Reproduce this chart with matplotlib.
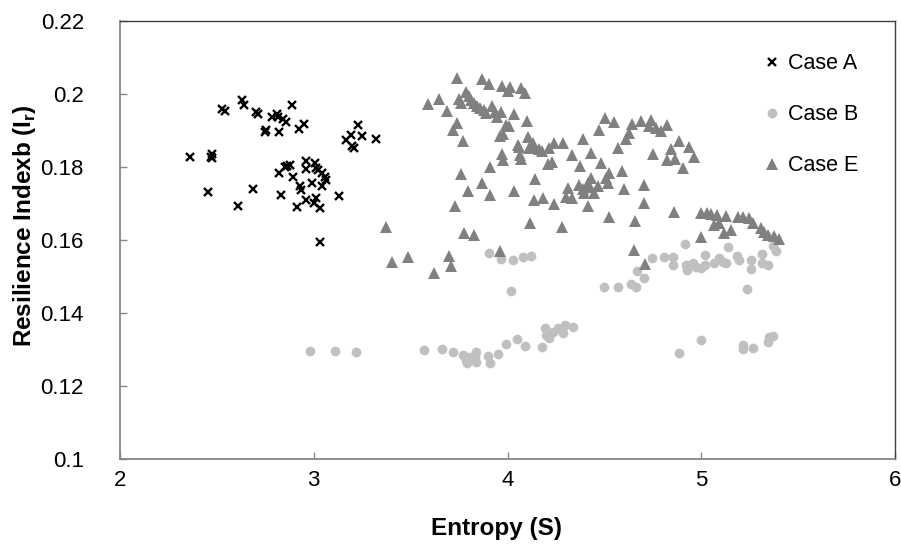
import matplotlib
matplotlib.use("Agg")
import matplotlib.pyplot as plt

plt.rcParams['font.family'] = ['Liberation Sans', 'DejaVu Sans']
plt.rcParams['mathtext.fontset'] = 'custom'
plt.rcParams['mathtext.rm'] = 'Liberation Sans'
plt.rcParams['mathtext.bf'] = 'Liberation Sans:bold'

# Case A (entropy, resilience index)
case_a_x = [2.632, 2.639, 2.524, 2.541, 2.701, 2.713, 2.890, 2.782, 2.808, 2.816,
            2.839, 2.859, 2.950, 2.923, 2.747, 2.753, 2.821, 3.228, 3.191, 3.165,
            3.251, 3.320, 3.206, 3.196, 2.361, 2.473, 2.469, 2.474, 2.821, 2.851,
            2.876, 2.864, 2.959, 2.962, 3.005, 3.014, 3.022, 3.040, 3.057, 3.065,
            2.893, 2.931, 2.936, 2.991, 3.040, 2.452, 2.684, 2.833, 2.610, 2.911,
            2.962, 3.014, 3.002, 3.031, 3.130, 3.031]
case_a_y = [0.1984, 0.1970, 0.1958, 0.1953, 0.1950, 0.1944, 0.1970, 0.1936, 0.1944, 0.1936,
            0.1931, 0.1922, 0.1918, 0.1904, 0.1897, 0.1901, 0.1895, 0.1915, 0.1888, 0.1874,
            0.1885, 0.1876, 0.1851, 0.1858, 0.1828, 0.1836, 0.1828, 0.1825, 0.1783, 0.1799,
            0.1805, 0.1803, 0.1817, 0.1794, 0.1810, 0.1796, 0.1792, 0.1784, 0.1773, 0.1764,
            0.1772, 0.1748, 0.1737, 0.1755, 0.1748, 0.1732, 0.1741, 0.1723, 0.1694, 0.1691,
            0.1710, 0.1716, 0.1702, 0.1687, 0.1721, 0.1595]

# Case B
case_b_x = [2.983, 3.112, 3.220, 3.571, 3.660, 3.718, 3.770, 3.787, 3.804, 3.839,
            3.830, 3.790, 3.839, 3.898, 3.911, 3.950, 3.990, 4.049, 4.088, 4.179,
            4.191, 4.200, 4.216, 4.234, 4.259, 4.285, 4.299, 4.340, 4.019, 3.907,
            3.968, 4.027, 4.079, 4.122, 4.500, 4.569, 4.638, 4.663, 4.667, 4.706,
            4.746, 4.806, 4.856, 4.852, 4.918, 4.921, 4.929, 4.955, 4.973, 4.998,
            5.019, 5.019, 5.067, 5.093, 5.110, 5.127, 5.136, 5.187, 5.196, 5.256,
            5.259, 5.316, 5.316, 5.342, 5.368, 5.388, 5.236, 4.887, 4.998, 5.216,
            5.216, 5.268, 5.342, 5.351, 5.368]
case_b_y = [0.1297, 0.1297, 0.1292, 0.1299, 0.1301, 0.1294, 0.1285, 0.1271, 0.1280, 0.1294,
            0.1280, 0.1262, 0.1267, 0.1282, 0.1264, 0.1287, 0.1314, 0.1330, 0.1310, 0.1308,
            0.1358, 0.1340, 0.1331, 0.1349, 0.1358, 0.1346, 0.1367, 0.1362, 0.1460, 0.1564,
            0.1547, 0.1545, 0.1554, 0.1556, 0.1470, 0.1470, 0.1479, 0.1472, 0.1516, 0.1495,
            0.1550, 0.1554, 0.1553, 0.1532, 0.1589, 0.1532, 0.1518, 0.1538, 0.1527, 0.1522,
            0.1559, 0.1532, 0.1536, 0.1550, 0.1541, 0.1536, 0.1582, 0.1556, 0.1545, 0.1545,
            0.1520, 0.1562, 0.1536, 0.1532, 0.1584, 0.1571, 0.1465, 0.1290, 0.1326, 0.1312,
            0.1301, 0.1303, 0.1321, 0.1333, 0.1337]

# Case E
case_e_x = [3.741, 3.870, 3.907, 3.973, 4.014, 4.002, 4.071, 4.088, 3.589, 3.646,
            3.687, 3.749, 3.761, 3.787, 3.801, 3.813, 3.825, 3.842, 3.859, 3.881,
            3.890, 3.921, 3.933, 3.945, 3.968, 4.031, 3.990, 4.010, 4.102, 3.741,
            3.718, 3.770, 3.959, 3.979, 4.053, 4.058, 4.105, 4.131, 4.113, 4.139,
            4.165, 4.179, 4.213, 4.242, 3.973, 3.979, 4.062, 4.071, 4.208, 4.230,
            3.911, 3.761, 3.870, 4.144, 3.795, 3.911, 4.036, 4.139, 4.182, 4.242,
            3.730, 3.375, 4.117, 3.775, 3.825, 3.959, 3.406, 3.486, 3.696, 3.710,
            3.620,
            4.505, 4.552, 4.474, 4.643, 4.629, 4.612, 4.689, 4.741, 4.732, 4.766,
            4.792, 4.821, 4.285, 4.388, 4.569, 4.883, 4.844, 4.938, 4.821, 4.866,
            4.964, 4.749, 4.907, 4.331, 4.431, 4.375, 4.483, 4.591, 4.526, 4.509,
            4.517, 4.431, 4.414, 4.371, 4.466, 4.448, 4.397, 4.311, 4.303, 4.333,
            4.423, 4.388, 4.603, 4.706, 4.703, 4.414, 4.522, 4.660, 4.857, 4.282,
            4.655, 4.711,
            4.998, 5.029, 5.050, 5.081, 5.127, 5.192, 5.213, 5.247, 5.265, 5.308,
            5.325, 5.347, 5.376, 5.402, 5.067, 5.093, 5.115, 5.153, 4.998]
case_e_y = [0.2043, 0.2040, 0.2027, 0.2023, 0.2018, 0.2009, 0.2016, 0.2002, 0.1973, 0.1986,
            0.1954, 0.1986, 0.1975, 0.2005, 0.1995, 0.1984, 0.1975, 0.1967, 0.1961, 0.1956,
            0.1947, 0.1967, 0.1952, 0.1936, 0.1952, 0.1945, 0.1915, 0.1912, 0.1926, 0.1921,
            0.1901, 0.1872, 0.1885, 0.1890, 0.1860, 0.1854, 0.1881, 0.1867, 0.1851, 0.1856,
            0.1848, 0.1845, 0.1851, 0.1865, 0.1835, 0.1819, 0.1833, 0.1821, 0.1808, 0.1815,
            0.1799, 0.1780, 0.1757, 0.1766, 0.1734, 0.1723, 0.1734, 0.1710, 0.1714, 0.1699,
            0.1694, 0.1635, 0.1646, 0.1620, 0.1614, 0.1571, 0.1539, 0.1554, 0.1556, 0.1530,
            0.1510,
            0.1933, 0.1924, 0.1901, 0.1917, 0.1892, 0.1876, 0.1926, 0.1929, 0.1912, 0.1906,
            0.1899, 0.1915, 0.1865, 0.1876, 0.1853, 0.1871, 0.1848, 0.1856, 0.1819, 0.1822,
            0.1827, 0.1836, 0.1796, 0.1833, 0.1839, 0.1803, 0.1810, 0.1790, 0.1783, 0.1769,
            0.1755, 0.1769, 0.1755, 0.1751, 0.1748, 0.1728, 0.1728, 0.1742, 0.1719, 0.1714,
            0.1746, 0.1739, 0.1739, 0.1750, 0.1702, 0.1693, 0.1664, 0.1653, 0.1676, 0.1635,
            0.1573, 0.1534,
            0.1673, 0.1675, 0.1670, 0.1668, 0.1666, 0.1662, 0.1664, 0.1659, 0.1646, 0.1632,
            0.1623, 0.1614, 0.1611, 0.1602, 0.1641, 0.1646, 0.1620, 0.1627, 0.1607]

x_ticks = [2, 3, 4, 5, 6]
y_ticks = [0.1, 0.12, 0.14, 0.16, 0.18, 0.2, 0.22]
y_tick_labels = ['0.1', '0.12', '0.14', '0.16', '0.18', '0.2', '0.22']

fig = plt.figure(figsize=(9.01, 5.5), dpi=100)
ax = fig.add_axes([120 / 901, 1 - 459 / 550, 775 / 901, 438 / 550])

ax.plot(case_b_x, case_b_y, 'o', color='#c0c0c0', markersize=7, mew=0, label='Case B', zorder=2)
ax.plot(case_e_x, case_e_y, '^', color='#808080', markersize=8, mew=0, label='Case E', zorder=3)
ax.plot(case_a_x, case_a_y, 'x', color='black', markersize=6, mew=1.7, label='Case A', zorder=4)

ax.set_xlim(2, 6)
ax.set_ylim(0.1, 0.22)
ax.set_xticks(x_ticks)
ax.set_xticklabels([str(t) for t in x_ticks])
ax.set_yticks(y_ticks)
ax.set_yticklabels(y_tick_labels)
ax.tick_params(axis='both', direction='in', length=5, width=1, color='#868686', labelsize=16)
ax.tick_params(axis='y', pad=26)
ax.tick_params(axis='x', pad=8)

for side in ['left', 'bottom']:
    ax.spines[side].set_color('#868686')
    ax.spines[side].set_linewidth(1.3)
for side in ['top', 'right']:
    ax.spines[side].set_color('#404040')
    ax.spines[side].set_linewidth(1)

ax.set_xlabel('Entropy (S)', fontsize=17.5, fontweight='bold')
ax.set_ylabel(r'Resilience Indexb (I$_\mathbf{r}$)', fontsize=17.5, fontweight='bold')
ax.xaxis.set_label_coords(0.486, -0.132)
ax.yaxis.set_label_coords(-0.106, 0.532)

handles, labels = ax.get_legend_handles_labels()
order = [2, 0, 1]
ax.legend([handles[i] for i in order], [labels[i] for i in order],
          loc='upper left', bbox_to_anchor=(0.830, 0.926), frameon=False,
          fontsize=15.5, labelspacing=1.39, handlelength=0.8, handletextpad=0.34,
          borderpad=0, borderaxespad=0)

fig.savefig('out.png', dpi=100)
